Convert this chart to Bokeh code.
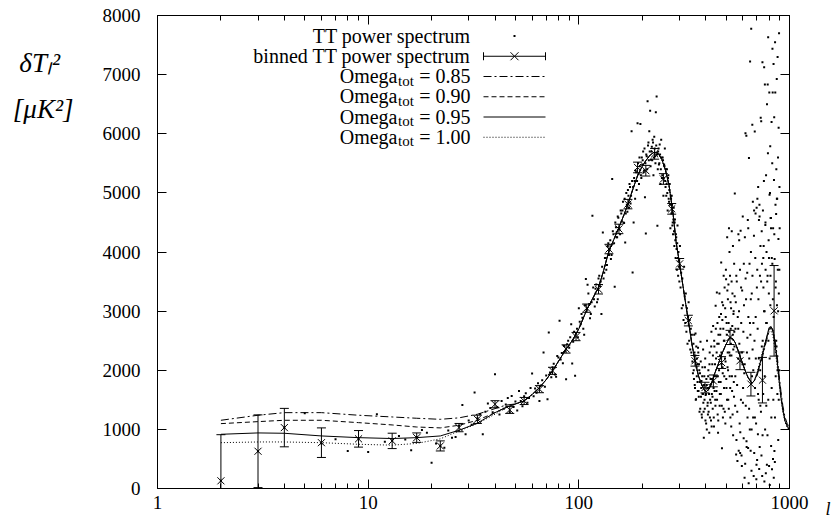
from bokeh.plotting import figure
from bokeh.models import (FixedTicker, PrintfTickFormatter, LinearAxis, LogAxis, Label,
                          Arrow, TeeHead, CustomJSTickFormatter)
from bokeh.embed import file_html
from bokeh.resources import INLINE

# ---------------- data ----------------
# TT power spectrum, l = 2 .. 99 (one value per l)
tt_low_start = 2
tt_low = [130, 630, 1030, 1273, 760, 833, 635, 840, 618, 1256,
          790, 810, 889, 830, 646, 870, 990, 945, 437, 760,
          720, 690, 980, 860, 872, 1060, 1414, 917, 1150, 1080,
          1622, 1190, 1260, 917, 1300, 1436, 1360, 1290, 1933, 1380,
          1250, 1480, 1350, 1420, 1530, 1290, 1566, 1380, 1470, 1320,
          1650, 1480, 1390, 1560, 1610, 1450, 1530, 1700, 1944, 1560,
          1690, 1620, 1780, 1480, 1740, 1830, 2300, 1720, 1910, 1510,
          2638, 1960, 1880, 2050, 2110, 1930, 1888, 2240, 2215, 2836,
          2180, 2290, 2120, 2410, 2330, 1849, 2441, 2500, 2380, 2560,
          2780, 2113, 2480, 2650, 1905, 2620, 2700, 2560]
# TT power spectrum, l = 100, 102 .. 348
tt_mid_even_start = 100
tt_mid_even = [3050, 2780, 2890, 2600, 3542, 3445, 3120, 2950, 4613, 3200,
               3380, 3150, 3550, 3420, 2950, 4331, 3650, 3900, 3780, 4150,
               4050, 3880, 5235, 4300, 3411, 4420, 4250, 4580, 4380, 4700,
               4520, 4850, 4490, 4160, 5000, 4680, 4950, 5150, 4820, 6041,
               3654, 4500, 5200, 5380, 5050, 6176, 5320, 5600, 6166, 5250,
               5480, 5700, 5380, 4924, 4314, 5620, 6548, 5850, 6041, 6391,
               5560, 5780, 5900, 5300, 5950, 5620, 6362, 6628, 4444, 5700,
               5480, 5820, 5150, 5900, 5250, 5600, 4950, 5480, 5750, 5100,
               4950, 5400, 4700, 5300, 4850, 5150, 4400, 4900, 4950, 4450,
               4300, 4750, 4100, 4550, 3900, 4250, 3700, 4450, 3600, 3850,
               3500, 4100, 3400, 3650, 3050, 3550, 3100, 2850, 3750, 3250,
               2800, 3300, 2650, 3050, 2450, 2900, 3150, 2500, 2850, 2350,
               2700, 2300, 2600, 2150, 1950]
# TT power spectrum, l = 101, 103 .. 299
tt_mid_odd_start = 101
tt_mid_odd = [2820, 2950, 2700, 3100, 3010, 3300, 2880, 3150, 3400, 3080,
              3450, 3200, 3600, 3500, 3750, 3550, 3900, 3700, 4100, 3950,
              4200, 3950, 4350, 4150, 4500, 4250, 4600, 4400, 4300, 4650,
              4700, 4500, 4900, 4650, 4800, 5050, 4750, 5100, 4950, 5200,
              5100, 5250, 4900, 5350, 5200, 5500, 5150, 5450, 5300, 5600,
              5550, 5350, 5750, 5500, 5650, 5400, 5800, 5550, 5700, 5450,
              5700, 5550, 5850, 5600, 5750, 5500, 5800, 5650, 5400, 5750,
              5500, 5650, 5400, 5600, 5300, 5550, 5250, 5450, 5200, 5400,
              5150, 5000, 5250, 4900, 5050, 4800, 4950, 4650, 4800, 4500,
              4550, 4350, 4500, 4200, 4300, 4050, 4150, 3900, 4000, 3750]
# TT power spectrum, l = 350, 352 .. 898
tt_high_even_start = 350
tt_high_even = [2450, 1850, 2300, 1700, 2620, 1510, 2050, 2200, 1800, 2380,
                1650, 2100, 1300, 1950, 2480, 1550, 1820, 1200, 2050, 1600,
                1450, 860, 1900, 1350, 2200, 1580, 1100, 1750, 2500, 1400,
                1250, 2000, 1700, 945, 2300, 1500, 1850, 1150, 2650, 1600,
                2100, 1350, 2750, 1700, 1050, 2400, 1900, 1500, 3090, 2200,
                1650, 3315, 2450, 1250, 945, 2600, 1800, 2900, 1400, 2250,
                2700, 1600, 3823, 2100, 680, 2850, 1950, 3100, 1350, 2500,
                1900, 3400, 2200, 1100, 2900, 3540, 1700, 2600, 4250, 2050,
                3200, 1500, 2800, 4400, 2300, 1900, 3600, 1200, 2700, 3050,
                2250, 4350, 1650, 3300, 2600, 900, 2950, 1800, 3800, 2400,
                4991, 1400, 2700, 3150, 573, 820, 3500, 1750, 465, 2900,
                2200, 4300, 640, 3000, 2450, 1100, 3700, 950, 4360, 1500,
                2800, 560, 380, 3350, 2100, 4600, 1700, 2650, 850, 3100,
                1950, 183, 4250, 420, 6007, 1400, 3200, 5968, 700, 2300,
                3650, 1200, 4540, 686, 2900, 90, 5590, 2200, 3800, 1000,
                7220, 2600, 640, 4000, 7774, 300, 3300, 1900, 6154, 2350,
                4850, 1200, 2800, 210, 4275, 600, 2500, 6036, 1700, 3900,
                4650, 2200, 1100, 156, 4750, 3400, 480, 4900, 2700, 917,
                5100, 3200, 1500, 4540, 330, 4800, 700, 3600, 2000, 4100,
                6272, 1300, 6210, 560, 4350, 3800, 212, 7209, 2500, 4700,
                1600, 3400, 4100, 5200, 7124, 120, 3000, 6831, 1000, 4456,
                3700, 260, 5300, 1400, 4000, 2800, 6500, 3500, 900, 6831,
                5669, 7632, 2500, 4200, 3300, 380, 6696, 4969, 60, 5000,
                5787, 3600, 4575, 4575, 720, 1200, 6200, 3900, 325, 5500,
                7436, 6696, 3200, 4400, 1500, 7181, 180, 5218, 6278, 635,
                3880, 450, 7547, 6696, 4800, 1900, 3500, 4642, 5400, 2400,
                6928, 3100, 4900, 1600, 7300, 3700, 5600, 820, 4219, 6100,
                3300, 7700, 2000, 5100, 4400]
# TT power spectrum, l = 351, 353 .. 549
tt_high_odd_a_start = 351
tt_high_odd_a = [2000, 2600, 1750, 2250, 1500, 2400, 1900, 2100, 1650, 2300,
                 1550, 2000, 1800, 1350, 2150, 1700, 1250, 1900, 1600, 2350,
                 1300, 1750, 1500, 2050, 1150, 1600, 1850, 1000, 1700, 1450,
                 1900, 1300, 1600, 2100, 1200, 1750, 1450, 2400, 1050, 1850,
                 1550, 2250, 1800, 1200, 2500, 1650, 2100, 1400, 2700, 1900,
                 2300, 1500, 2800, 1900, 1150, 2450, 2000, 3300, 1600, 2600,
                 1800, 2950, 2300, 1400, 3150, 2050, 1200, 2700, 3600, 1700,
                 2500, 1300, 3050, 2150, 3700, 1850, 2800, 1500, 3350, 2300,
                 2000, 3450, 1350, 2650, 4000, 2250, 1700, 3150, 2450, 1050,
                 3500, 1900, 2750, 1250, 4100, 2350, 3000, 1550, 2650, 3250]
# TT power spectrum, l = 553, 559 .. 895
tt_high_odd_b_start = 553
tt_high_odd_b = [1900, 3600, 1300, 2700, 4200, 600, 3400, 2300, 1450, 3800,
                 2100, 3550, 800, 2550, 4400, 1350, 2800, 3200, 1000, 3600,
                 2000, 4700, 1200, 2900, 400, 3700, 1600, 2200, 4600, 1400,
                 3500, 2400, 900, 3900, 3000, 1900, 4500, 2800, 400, 3600,
                 1500, 3900, 2200, 3100, 4400, 1700, 3800, 500, 2900, 4300,
                 1200, 3400, 2500, 4900, 2000, 3000, 1500, 3700]

# binned TT power spectrum
bin_l = [2, 3, 4, 6, 9, 13, 17, 22, 27, 33, 40, 47, 55, 65, 75, 87, 97, 109, 124,
         139, 155, 171, 190, 208, 229, 252, 276, 301, 331, 356, 397, 435, 476, 522,
         582, 656, 744, 845]
bin_v = [130, 630, 1030, 775, 840, 805, 860, 720, 1030, 1170, 1425, 1330, 1480, 1680,
         1990, 2360, 2570, 3050, 3370, 4050, 4390, 4810, 5430, 5375, 5660, 5235, 4730,
         3800, 2840, 2160, 1707, 1820, 2130, 2555, 2160, 1765, 1832, 3005]
bin_err = [780, 615, 325, 250, 140, 130, 80, 85, 70, 70, 60, 60, 60, 60, 60, 70, 70,
           70, 80, 80, 80, 80, 90, 90, 90, 90, 90, 90, 90, 90, 90, 100, 100, 120, 150,
           200, 385, 766]

# model curves: low-l part (different per Omega_tot)
theory_l_low = [2, 3, 4, 6, 9, 13, 17, 22, 27, 33, 40, 45]
om085_low = [1154, 1239, 1283, 1283, 1239, 1210, 1188, 1170, 1195, 1256, 1351, 1410]
om090_low = [1097, 1131, 1154, 1154, 1114, 1075, 1040, 1025, 1070, 1154, 1283, 1370]
om095_low = [917, 940, 934, 889, 860, 845, 860, 889, 985, 1105, 1283, 1370]
om100_low = [775, 787, 787, 775, 748, 733, 762, 840, 973, 1097, 1256, 1360]
# common part
theory_l_mid = [50, 55, 60, 65, 70, 75, 80, 87, 93, 100, 109, 117, 124, 131, 139, 147,
                155, 163, 171, 180, 190, 200, 208, 218, 228, 238, 248, 258, 268, 280,
                290, 301, 316, 331, 344, 356, 370, 382, 393, 403, 415, 425, 440, 459,
                478, 496, 510, 522, 537, 552, 572, 593, 615, 636, 663, 680]
theory_mid = [1430, 1481, 1590, 1707, 1840, 1989, 2150, 2357, 2500, 2700, 3020, 3230,
              3400, 3680, 4021, 4220, 4416, 4610, 4811, 5050, 5290, 5450, 5545, 5640,
              5690, 5670, 5560, 5380, 5130, 4650, 4150, 3796, 3300, 2836, 2450, 2159,
              1900, 1764, 1670, 1639, 1680, 1764, 1930, 2103, 2280, 2413, 2500, 2553,
              2535, 2469, 2320, 2159, 2000, 1876, 1781, 1820]
# high-l tail (slightly different per Omega_tot)
theory_l_tail = [700, 725, 750, 775, 800, 818, 836, 855, 873, 892, 911, 930, 952, 975, 1000]
om085_tail = [1900, 2080, 2270, 2480, 2660, 2730, 2680, 2500, 2260, 1940, 1640, 1400, 1210, 1100, 1030]
om090_tail = [1920, 2100, 2300, 2510, 2700, 2740, 2660, 2460, 2200, 1880, 1580, 1350, 1170, 1070, 1000]
om095_tail = [1933, 2120, 2328, 2530, 2722, 2740, 2638, 2420, 2159, 1840, 1537, 1320, 1143, 1050, 990]
om100_tail = [1960, 2160, 2370, 2540, 2650, 2660, 2560, 2340, 2080, 1780, 1500, 1290, 1120, 1030, 975]

x_ticks = [1, 10, 100, 1000]
x_minor = [2, 3, 4, 5, 6, 7, 8, 9, 20, 30, 40, 50, 60, 70, 80, 90,
           200, 300, 400, 500, 600, 700, 800, 900]
y_ticks = [0, 1000, 2000, 3000, 4000, 5000, 6000, 7000, 8000]

legend_labels = ["TT power spectrum", "binned TT power spectrum"]
omega_labels = ["= 0.85", "= 0.90", "= 0.95", "= 1.00"]
y_title = ["\u03b4T\u2097\u00b2\u00a0\u00a0", "[\u03bcK\u00b2]"]
x_title = "l"

# ---------------- figure ----------------
FONT = "'Liberation Serif', 'Times New Roman', Times, serif"
FL, FB = 157, 487.5   # frame left / bottom in page pixels

p = figure(width=833, height=518, x_axis_type="log", x_range=(1, 1000), y_range=(0, 8000),
           output_backend="svg", toolbar_location=None,
           min_border_left=FL, min_border_right=43, min_border_top=15, min_border_bottom=30)
p.background_fill_color = "white"
p.border_fill_color = "white"
p.outline_line_color = "black"
p.outline_line_width = 1
p.xgrid.visible = False
p.ygrid.visible = False

xt = FixedTicker(ticks=x_ticks, minor_ticks=x_minor)
yt = FixedTicker(ticks=y_ticks, minor_ticks=[])

def style_axis(ax, labels=True):
    ax.axis_line_color = "black"
    ax.major_tick_line_color = "black"
    ax.minor_tick_line_color = "black"
    ax.major_tick_in = 9
    ax.major_tick_out = 0
    ax.minor_tick_in = 5
    ax.minor_tick_out = 0
    ax.major_label_text_font = FONT
    ax.major_label_text_color = "black"
    if labels:
        ax.major_label_text_font_size = "19px"
    else:
        ax.major_label_text_font_size = "1px"
        ax.major_label_standoff = 0
        ax.formatter = CustomJSTickFormatter(code="return ''")

p.xaxis.ticker = xt
p.xaxis.formatter = PrintfTickFormatter(format="%d")
style_axis(p.xaxis[0])
p.xaxis.major_label_standoff = 7
p.yaxis.ticker = yt
p.yaxis.formatter = PrintfTickFormatter(format="%d")
style_axis(p.yaxis[0])
p.yaxis.major_label_standoff = 17

top = LogAxis(ticker=xt)
style_axis(top, labels=False)
p.add_layout(top, "above")

# right mirror axis; its label at y=0 carries the x-axis title "l"
right = LinearAxis(ticker=yt)
style_axis(right, labels=False)
right.major_label_text_font_size = "18px"
right.major_label_text_font_style = "italic"
right.major_label_standoff = 36
right.major_label_overrides = {0: "\n\n" + x_title}
p.add_layout(right, "right")

# y-axis title, drawn as the labels of an extra, line-less left axis
ylab = LinearAxis(ticker=FixedTicker(ticks=[7190, 6420], minor_ticks=[]),
                  major_label_overrides={7190: y_title[0], 6420: y_title[1]})
ylab.axis_line_color = None
ylab.major_tick_line_color = None
ylab.minor_tick_line_color = None
ylab.major_tick_in = 0
ylab.major_tick_out = 0
ylab.major_label_text_font = FONT
ylab.major_label_text_font_size = "27px"
ylab.major_label_text_font_style = "italic"
ylab.major_label_text_color = "black"
ylab.major_label_standoff = 26
p.add_layout(ylab, "left")

# ---- TT scatter ----
def l_of(start, vals, step):
    return [start + step * i for i in range(len(vals))]

tt_l = (l_of(tt_low_start, tt_low, 1)
        + l_of(tt_mid_even_start, tt_mid_even, 2)
        + l_of(tt_mid_odd_start, tt_mid_odd, 2)
        + l_of(tt_high_even_start, tt_high_even, 2)
        + l_of(tt_high_odd_a_start, tt_high_odd_a, 2)
        + l_of(tt_high_odd_b_start, tt_high_odd_b, 6))
tt_v = tt_low + tt_mid_even + tt_mid_odd + tt_high_even + tt_high_odd_a + tt_high_odd_b
p.scatter(tt_l, tt_v, marker="square", size=2, fill_color="black", line_color=None)

# ---- binned points with error bars ----
lo = [max(0, v - e) for v, e in zip(bin_v, bin_err)]
hi = [v + e for v, e in zip(bin_v, bin_err)]
p.segment(x0=bin_l, y0=lo, x1=bin_l, y1=hi, line_color="black", line_width=1)
p.scatter(bin_l, lo, marker="dash", size=9, line_color="black", line_width=1)
p.scatter(bin_l, hi, marker="dash", size=9, line_color="black", line_width=1)
p.scatter(bin_l, bin_v, marker="x", size=10, line_color="black", line_width=1)

# ---- model curves ----
cl = theory_l_low + theory_l_mid + theory_l_tail
curves = [
    (om085_low, om085_tail, "8 3 2 3"),
    (om090_low, om090_tail, "5 3"),
    (om095_low, om095_tail, "solid"),
    (om100_low, om100_tail, "1 2"),
]
for low, tail, dash in curves:
    p.line(cl, low + theory_mid + tail, line_color="black", line_width=1, line_dash=dash)

# ---------------- legend (gnuplot style: text right, sample left of it) ----------------
TDY = -7   # baseline correction for Label text

def text(t, cx, cy, size, align="left", style="normal"):
    p.add_layout(Label(x=cx - FL, y=FB - (cy + TDY), x_units="screen", y_units="screen", text=t,
                       text_font=FONT, text_font_size=f"{size}px", text_align=align,
                       text_baseline="alphabetic", text_font_style=style, text_color="black"))

def seg(x0, y0, x1, y1, dash="solid", width=1, start=None, end=None):
    p.add_layout(Arrow(x_start=x0 - FL, y_start=FB - y0, x_end=x1 - FL, y_end=FB - y1,
                       start_units="screen", end_units="screen", start=start, end=end,
                       line_color="black", line_width=width, line_dash=dash))

TXT_R = 470
S0, S1 = 483, 545
base = [41.5, 61.75, 82, 102.25, 122.5, 142.75]
text(legend_labels[0], TXT_R, base[0], 20, align="right")
seg(513, base[0] - 6.5, 515, base[0] - 6.5, width=2)
text(legend_labels[1], TXT_R, base[1], 20, align="right")
yb = base[1] - 6.5
seg(S0, yb, S1, yb, start=TeeHead(size=8, line_width=1), end=TeeHead(size=8, line_width=1))
seg(510, yb - 4, 518, yb + 4)
seg(510, yb + 4, 518, yb - 4)
for i, (lab, (_, _, dash)) in enumerate(zip(omega_labels, curves)):
    b = base[2 + i]
    text("Omega", 397, b, 20, align="right")
    text("tot", 397.5, b + 4.5, 15)
    text(lab, TXT_R, b, 20, align="right")
    seg(S0, b - 6.5, S1, b - 6.5, dash=dash)

open("out.html", "w").write(file_html(p, INLINE))
